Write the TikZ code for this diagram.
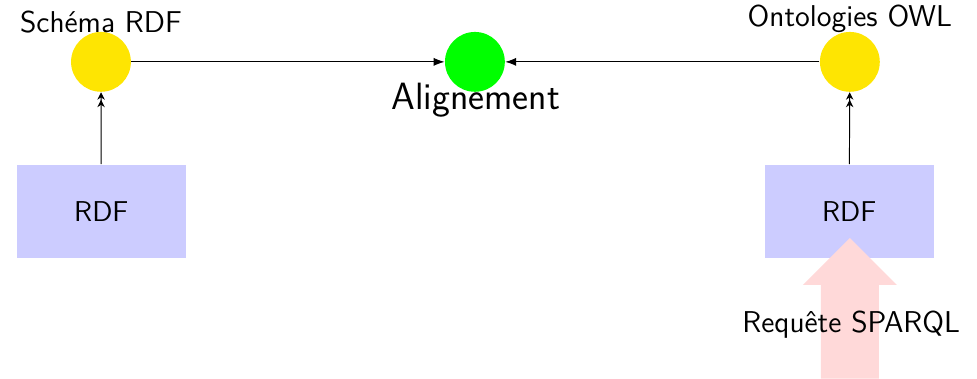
\documentclass[tikz,border=0pt]{standalone}
\usepackage{tikz}
\usetikzlibrary{positioning,arrows.meta,calc}
\tikzset{
  concept/.style={circle,fill=yellow!94!red,minimum size=0.88cm,inner sep=0pt},
  alignpt/.style={circle,fill=green,minimum size=0.88cm,inner sep=0pt},
  datbox/.style={rectangle,fill=blue!20,minimum width=2.49cm,minimum height=1.38cm,font=\sffamily\large},
  lbl/.style={font=\sffamily\fontsize{12.6}{15}\selectfont,inner sep=1pt},
  link/.style={-{Latex[length=1.6mm,width=1.2mm]},line width=0.4pt},
  lift/.style={-{Stealth[length=1.1mm,width=1.1mm] Stealth[length=1.1mm,width=1.1mm]},line width=0.4pt},
  query/.style={fill=red!15},
}
\begin{document}
\begin{tikzpicture}
  \useasboundingbox (0,0) rectangle (14.37,5.57);
  % concepts and alignment
  \node[concept] (schema) at (1.485,4.66) {};
  \node[alignpt] (alig) at (6.985,4.66) {};
  \node[concept] (owl) at (12.5,4.66) {};
  \node[lbl,above=-0.06cm of schema] {Schéma RDF};
  \node[lbl,above=-0.06cm of owl] {Ontologies OWL};
  \node[font=\sffamily\fontsize{15.9}{19}\selectfont,inner sep=1pt] at (7.0,4.10) {Alignement};
  % data
  \node[datbox] (rdfa) at (1.49,2.46) {RDF};
  \node[datbox] (rdfb) at (12.49,2.46) {RDF};
  \draw[link] (schema) -- (alig);
  \draw[link] (owl) -- (alig);
  \draw[lift] (rdfa) -- (schema);
  \draw[lift] (rdfb) -- (owl);
  % query arrow
  \coordinate (qtip) at (12.5,2.07);
  \fill[query] (qtip) -- ++(-0.69,-0.69) -- ++(0.265,0) -- ++(0,-1.38)
    -- ++(0.85,0) -- ++(0,1.38) -- ++(0.265,0) -- cycle;
  \node[lbl] (sparql) at (12.52,0.79) {Requête SPARQL};
\end{tikzpicture}
\end{document}
